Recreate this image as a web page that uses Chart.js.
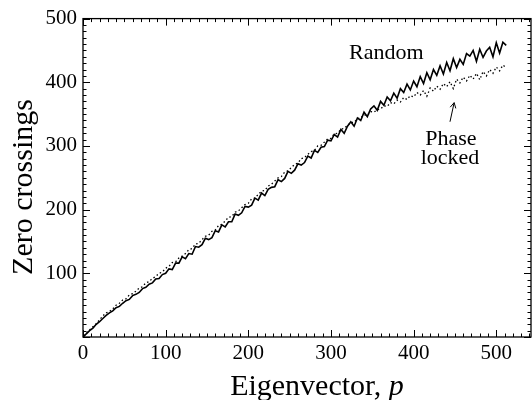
<!DOCTYPE html>
<html>
<head>
<meta charset="utf-8">
<script src="https://cdn.jsdelivr.net/npm/chart.js@4.4.1/dist/chart.umd.min.js"></script>
<style>
  body { margin: 0; background: #fff; }
  #wrap { width: 532px; height: 400px; }
</style>
</head>
<body>
<div id="wrap"><canvas id="chart"></canvas></div>
<script>
// eigenvector index p
const eigenvector = [1, 4, 8, 12, 16, 20, 24, 28, 32, 36, 40, 44, 48, 52, 56, 60, 64, 68, 72, 76,
  80, 84, 88, 92, 96, 100, 104, 108, 112, 116, 120, 124, 128, 132, 136, 140, 144, 148, 152, 156,
  160, 164, 168, 172, 176, 180, 184, 188, 192, 196, 200, 204, 208, 212, 216, 220, 224, 228, 232, 236,
  240, 244, 248, 252, 256, 260, 264, 268, 272, 276, 280, 284, 288, 292, 296, 300, 304, 308, 312, 316,
  320, 324, 328, 332, 336, 340, 344, 348, 352, 356, 360, 364, 368, 372, 376, 380, 384, 388, 392, 396,
  400, 404, 408, 412, 416, 420, 424, 428, 432, 436, 440, 444, 448, 452, 456, 460, 464, 468, 472, 476,
  480, 484, 488, 492, 496, 500, 504, 508, 512];

// zero crossings, random phases
const randomZC = [1, 5, 10, 14, 20, 24, 29, 34, 38, 41, 46, 48, 53, 57, 59, 65, 67, 70, 76, 78,
  83, 85, 91, 92, 98, 100, 107, 106, 116, 116, 126, 123, 131, 130, 142, 141, 145, 155, 153, 156,
  167, 165, 176, 173, 181, 181, 193, 191, 195, 205, 204, 207, 218, 215, 226, 222, 232, 235, 236, 247,
  244, 249, 260, 257, 262, 272, 270, 274, 284, 281, 293, 290, 298, 299, 309, 308, 318, 314, 326, 320,
  331, 338, 331, 344, 340, 353, 346, 358, 363, 356, 370, 364, 377, 371, 383, 375, 390, 384, 397, 388,
  402, 393, 409, 398, 415, 404, 420, 411, 426, 413, 431, 418, 437, 423, 436, 428, 445, 441, 450, 433,
  452, 439, 449, 455, 440, 462, 446, 463, 458];

// zero crossings, phase locked
const lockedZC = [2, 6, 11, 16, 21, 27, 33, 38, 40, 44, 50, 53, 58, 60, 66, 68, 72, 77, 79, 85,
  87, 92, 95, 100, 102, 108, 111, 117, 118, 124, 127, 131, 137, 139, 146, 147, 153, 158, 160, 166,
  168, 175, 177, 182, 188, 189, 196, 198, 203, 208, 210, 217, 218, 224, 229, 230, 237, 240, 245, 250,
  252, 259, 261, 266, 271, 273, 280, 282, 287, 291, 293, 300, 301, 306, 311, 312, 319, 320, 326, 328,
  332, 337, 337, 343, 344, 349, 348, 354, 353, 357, 358, 363, 362, 368, 366, 372, 369, 376, 373, 379,
  377, 384, 380, 387, 378, 391, 386, 394, 389, 398, 393, 401, 390, 405, 399, 408, 402, 411, 405, 414,
  404, 417, 410, 420, 414, 424, 418, 427, 423];

const xTicks = [0, 100, 200, 300, 400, 500];
const yTicks = [100, 200, 300, 400, 500];

const serif = '"Liberation Serif", "Times New Roman", serif';

// frame with inward ticks on all four sides, labels and axis titles
const framePlugin = {
  id: 'frame',
  afterDraw(chart) {
    const { ctx, chartArea: a, scales: { x, y } } = chart;
    ctx.save();
    ctx.strokeStyle = '#000';
    ctx.lineWidth = 1.3;
    ctx.strokeRect(a.left, a.top, a.right - a.left, a.bottom - a.top);
    ctx.lineWidth = 1;
    ctx.beginPath();
    for (let v = 0; v <= x.max; v += 10) {
      const px = Math.round(x.getPixelForValue(v)) + 0.5;
      const len = v % 100 === 0 ? 7 : 3.5;
      ctx.moveTo(px, a.bottom); ctx.lineTo(px, a.bottom - len);
      ctx.moveTo(px, a.top); ctx.lineTo(px, a.top + len);
    }
    for (let v = 0; v <= y.max; v += 10) {
      const py = Math.round(y.getPixelForValue(v)) + 0.5;
      const len = v % 100 === 0 ? 7 : 3.5;
      ctx.moveTo(a.left, py); ctx.lineTo(a.left + len, py);
      ctx.moveTo(a.right, py); ctx.lineTo(a.right - len, py);
    }
    ctx.stroke();

    // annotations
    ctx.fillStyle = '#000';
    ctx.textAlign = 'center';
    ctx.textBaseline = 'middle';
    ctx.font = '22px ' + serif;
    ctx.fillText('Random', x.getPixelForValue(367), y.getPixelForValue(446));
    ctx.fillText('Phase', x.getPixelForValue(445), y.getPixelForValue(310));
    ctx.fillText('locked', x.getPixelForValue(444), y.getPixelForValue(280));

    // arrow
    const x0 = x.getPixelForValue(444), y0 = y.getPixelForValue(338);
    const x1 = x.getPixelForValue(449), y1 = y.getPixelForValue(368);
    ctx.beginPath();
    ctx.moveTo(x0, y0); ctx.lineTo(x1, y1);
    const ang = Math.atan2(y1 - y0, x1 - x0);
    ctx.moveTo(x1, y1); ctx.lineTo(x1 - 6 * Math.cos(ang - 0.5), y1 - 6 * Math.sin(ang - 0.5));
    ctx.moveTo(x1, y1); ctx.lineTo(x1 - 6 * Math.cos(ang + 0.5), y1 - 6 * Math.sin(ang + 0.5));
    ctx.stroke();

    // x title with italic p
    ctx.font = '30px ' + serif;
    const t1 = 'Eigenvector, ';
    const w1 = ctx.measureText(t1).width;
    ctx.font = 'italic 30px ' + serif;
    const w2 = ctx.measureText('p').width;
    const cx = (a.left + a.right) / 2 + 10;
    const sx = cx - (w1 + w2) / 2;
    ctx.textAlign = 'left';
    ctx.textBaseline = 'alphabetic';
    ctx.font = '30px ' + serif;
    ctx.fillText(t1, sx, 395);
    ctx.font = 'italic 30px ' + serif;
    ctx.fillText('p', sx + w1, 395);

    // y title
    ctx.translate(32, 187);
    ctx.rotate(-Math.PI / 2);
    ctx.textAlign = 'center';
    ctx.font = '30px ' + serif;
    ctx.fillText('Zero crossings', 0, 0);
    ctx.restore();
  }
};

new Chart(document.getElementById('chart'), {
  type: 'line',
  data: {
    datasets: [{
      label: 'Random',
      data: eigenvector.map((p, i) => ({ x: p, y: randomZC[i] })),
      borderColor: '#000',
      borderWidth: 1.6,
      pointRadius: 0,
      tension: 0
    }, {
      label: 'Phase locked',
      data: eigenvector.map((p, i) => ({ x: p, y: lockedZC[i] })),
      borderColor: '#000',
      borderWidth: 1.3,
      borderDash: [1.5, 2.5],
      pointRadius: 0,
      tension: 0
    }]
  },
  options: {
    responsive: true,
    maintainAspectRatio: false,
    animation: false,
    layout: { padding: { top: 18, right: 1, left: 0, bottom: 0 } },
    plugins: { legend: { display: false }, tooltip: { enabled: false } },
    scales: {
      x: {
        type: 'linear',
        min: 0,
        max: 542,
        afterBuildTicks: s => { s.ticks = xTicks.map(v => ({ value: v })); },
        afterFit: s => { s.height = 63; },
        grid: { display: false, drawTicks: false },
        border: { display: false },
        ticks: { color: '#000', padding: 4, maxRotation: 0, font: { family: serif, size: 21 } }
      },
      y: {
        min: 0,
        max: 500,
        afterBuildTicks: s => { s.ticks = yTicks.map(v => ({ value: v })); },
        afterFit: s => { s.width = 83; },
        grid: { display: false, drawTicks: false },
        border: { display: false },
        ticks: { color: '#000', padding: 6, font: { family: serif, size: 21 } }
      }
    }
  },
  plugins: [framePlugin]
});
</script>
</body>
</html>
